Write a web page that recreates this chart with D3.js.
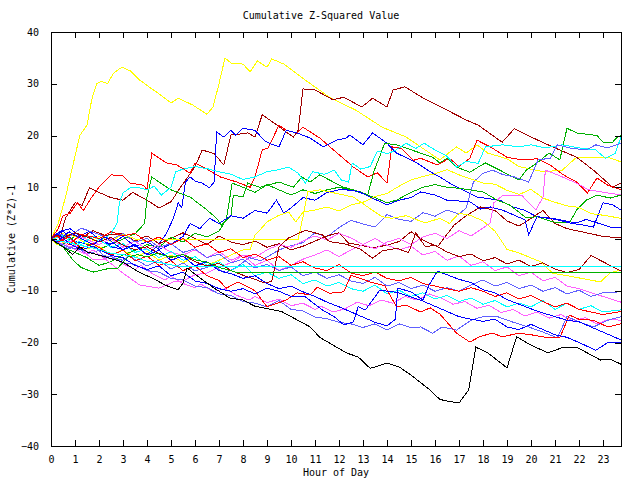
<!DOCTYPE html>
<html><head><meta charset="utf-8">
<script src="https://cdn.jsdelivr.net/npm/d3@7"></script>
<style>
body{margin:0;background:#fff}
svg{display:block}
text{font-family:"DejaVu Sans Mono",monospace;font-size:10px;fill:#000}
</style></head><body>
<svg id="c" width="640" height="480"></svg>
<script>
const titleText = "Cumulative Z-Squared Value";
const xLabel = "Hour of Day";
const yLabel = "Cumulative (Z*Z)-1";
const xTicks = d3.range(0, 24);
const yTicks = [-40, -30, -20, -10, 0, 10, 20, 30, 40];

const COL = {red:"#ff0000", dred:"#a00000", green:"#00b000", blue:"#0000ff", lblue:"#6060ff", mag:"#ff60ff", cyan:"#00ffff", yel:"#ffff00", blk:"#000000"};

const yellowTop = [[0,0],[0.3,3],[0.6,8],[1.0,16],[1.2,20],[1.5,22],[1.7,27],[1.9,30],[2.1,30.5],[2.35,30],[2.6,32],[2.95,33.2],[3.3,32.5],[3.7,30.7],[4.2,29],[4.4,28.4],[5.0,26.3],[5.3,27.2],[5.9,25.9],[6.5,24.1],[6.75,25.5],[7.0,30],[7.25,35],[7.5,34],[8.0,33.8],[8.3,32.3],[8.6,34.4],[9.0,33.2],[9.2,34.8],[9.7,33.8],[10.6,30.7],[11.6,27.4],[12.7,24.9],[13.8,21.6],[14.8,19.7],[15.4,17.8],[16.2,15.3],[16.9,17.8],[17.3,16.6],[17.75,18.2],[18.2,16.6],[19.0,15.5],[19.5,14],[20.5,13],[21.3,13.3],[21.9,15.8],[23.2,15.8],[23.75,14.9]];
const blackLow = [[0,0],[0.5,-1.5],[0.9,-3],[1.2,-1.5],[1.5,-2.5],[2.3,-3.5],[3,-4.5],[3.7,-6.5],[4.2,-7.5],[4.8,-9.0],[5.3,-9.8],[5.5,-8.5],[5.67,-5.6],[6.2,-7.5],[6.8,-9.5],[7.45,-11.4],[8.0,-11.8],[8.5,-13],[9.6,-14],[10.8,-17],[11.2,-19],[12.3,-22],[12.8,-22.8],[13.3,-25],[14.0,-24],[14.5,-24.7],[15.0,-26.3],[15.8,-29.2],[16.2,-31],[16.6,-31.4],[17.0,-31.7],[17.4,-29.2],[17.7,-20.9],[18.2,-22],[19.0,-24.9],[19.4,-18.9],[20.0,-20.5],[20.7,-22],[21.3,-21],[21.9,-20.9],[22.9,-23.4],[23.3,-23.2],[23.75,-24.2]];
const darkRedHigh = [[0,0],[0.3,-1],[0.6,4],[1.0,7],[1.3,6.5],[1.6,9.9],[2.0,9],[2.5,8],[3,7.5],[3.4,9],[4.0,7.5],[4.5,6],[5.0,7.2],[5.4,10],[5.9,13.3],[6.1,15],[6.3,17.2],[6.8,16.5],[7.2,14.3],[7.5,20.1],[7.9,20.3],[8.2,20.5],[8.5,19.7],[8.8,24],[9.3,22.4],[9.7,21],[10.1,19.7],[10.3,21],[10.5,29],[11.0,28.8],[11.75,26.9],[12.2,27.4],[12.95,25.5],[13.4,27.2],[14.0,25.5],[14.25,28.8],[14.75,29.4],[15.45,27.4],[16.5,24.9],[17.3,23],[17.8,22],[18.8,18.7],[19.3,21.3],[20.1,19.5],[20.9,17.8],[21.9,15.8],[22.6,13.3],[23.4,10],[23.75,10.8]];
const redHigh = [[0,0],[0.3,2],[0.5,4.5],[0.8,5],[1.1,7],[1.35,5.5],[1.7,8.1],[2.0,10],[2.5,12.4],[3.0,12.2],[3.3,10.8],[3.85,10.4],[4.0,9.5],[4.2,16.6],[4.8,14.7],[5.25,14.3],[5.8,12.7],[6.0,14.7],[6.35,13.9],[7.05,12],[7.75,11],[8.3,10],[8.5,12],[8.8,17.2],[9.05,17.6],[9.5,22],[9.8,21],[10.25,20.5],[10.5,21.6],[11.2,19.5],[12.6,13.9],[13.2,12],[13.6,12.8],[14.0,10.8],[14.2,17.8],[14.6,17.5],[15.1,15.2],[15.4,15.6],[16.1,14.3],[16.6,15.6],[17.0,14],[17.45,15.6],[17.75,19.1],[18.3,17.8],[19.0,15.8],[19.6,15.3],[20.25,15.5],[20.8,14.3],[21.35,12.4],[21.9,11],[22.35,8.9],[22.75,11.8],[23.2,10.4],[23.5,9.9],[23.75,9.5]];
const blueHigh = [[0,0],[0.5,1.5],[1,-0.5],[1.5,-1],[2,0.5],[2.5,-1.5],[3,-2],[3.5,-1],[4,-3],[4.4,-1.5],[4.8,1],[5.1,4],[5.3,7],[5.45,6],[5.6,11],[5.8,12],[6.0,11.2],[6.3,10.8],[6.6,9.9],[6.8,11],[6.9,20.7],[7.2,19.7],[7.5,21],[7.7,20],[8.0,21.4],[8.5,21],[8.9,19],[9.1,18.5],[9.5,17.8],[9.8,21],[10.25,20.5],[10.8,19.5],[11.35,17.8],[11.9,19.1],[12.3,19.5],[12.45,20.1],[13.0,18.2],[13.4,20.5],[14.0,18.5],[14.4,16.6],[15.25,14.7],[15.8,13],[16.2,12],[16.75,10.4],[17.75,8.1],[18.7,7.5],[19.25,6.2],[19.7,5.6],[20.25,4.3],[20.9,4],[21.2,3.7],[21.9,3.1],[22.3,3.8],[23.3,2.3],[23.75,2.3]];
const greenHigh = [[0,0],[0.5,-1],[1,0.5],[1.5,-1],[2,-2],[2.5,-1],[3,0],[3.5,1],[3.9,3],[4.0,8.1],[4.2,12],[4.5,11],[5.0,9.5],[5.8,8.1],[6.5,5.6],[6.9,4],[7.1,2.7],[7.5,4.5],[7.6,8.5],[8.0,8.1],[8.2,10.8],[8.7,10],[9.5,11],[10.1,10],[10.45,12],[10.8,11],[11.2,12.4],[11.6,11.4],[12.2,10],[12.9,9.1],[13.2,8.5],[13.45,13],[13.7,16],[13.9,18.5],[14.4,18.2],[15.4,16.6],[15.9,15.8],[16.2,14.7],[16.5,15.6],[16.9,13.9],[17.45,12.9],[17.8,13.9],[18.1,14.7],[18.7,13.3],[19.5,11.4],[19.8,13.3],[20.25,14.7],[20.75,16.6],[21.2,15.3],[21.5,21.4],[21.9,20.5],[22.75,20],[23.0,18.7],[23.4,18.7],[23.6,19.7],[23.75,20]];
const cyanHigh = [[0,0],[0.5,0.5],[1,-1],[1.5,0.5],[2,-0.5],[2.5,1],[2.75,3],[2.85,7],[3.0,8.9],[3.3,9.9],[3.6,10],[4.0,9.5],[4.3,10.2],[4.6,8.5],[5.0,10],[5.2,13],[5.5,13.5],[6.0,14],[6.5,13.6],[7.0,13],[7.5,12.5],[8.0,11.5],[8.5,12],[9.0,13],[9.4,13.3],[9.9,13.9],[10.3,12.7],[10.6,10.8],[10.9,13],[11.4,12.5],[11.8,13.3],[12.1,11.4],[12.4,11],[12.55,14.7],[12.9,13.5],[13.3,14],[13.6,17],[14.0,16.5],[14.3,17],[14.8,18.5],[15.2,17.5],[15.55,18.5],[16.0,17.2],[16.5,16],[16.9,13.9],[17.3,15],[17.8,14.6],[18.1,17.8],[18.8,18.2],[19.5,17.8],[20.0,18.2],[20.6,17.6],[21.3,18.2],[22.0,17.6],[22.7,17.2],[23.1,15.6],[23.5,16.5],[23.75,19.7]];
const lblueRise = [[0,0],[0.25,-0.8],[0.75,-1.9],[1,-1.4],[1.5,-2.9],[2,-2.2],[2.25,-3.6],[3,-4.1],[3.25,-3.3],[4,-5.2],[4.5,-4.1],[5,-5.8],[5.5,-4.6],[6,-6.2],[6.75,-5.1],[7.25,-6.6],[7.75,-5.4],[8.25,-3.6],[8.75,-4.2],[9.5,-2.1],[10,-1.3],[10.5,-0.7],[11,1.2],[11.5,0.4],[12,2.2],[12.5,3.6],[13,2.9],[13.5,2.3],[14,4.7],[14.5,3.8],[15,3.4],[15.5,5.1],[16,4.4],[16.5,5.6],[17.0,4.8],[17.3,6],[17.6,11],[18.0,12.7],[18.4,13.3],[18.8,12.5],[19.3,12],[19.9,11],[20.3,15.3],[20.8,15.6],[21.1,18.2],[21.6,17.6],[22.3,17.2],[22.7,18.2],[23.2,17.6],[23.75,18.5]];
const darkRedMid = [[0,0],[0.25,-0.7],[0.75,0.9],[1.25,0.2],[1.75,1.6],[2.25,0.7],[3,1.1],[3.5,-0.4],[4,0.6],[4.5,-0.9],[5,0.1],[5.5,1.2],[6,0.1],[6.5,-1.1],[7,0.6],[7.5,-0.6],[8,-1.1],[8.5,-0.4],[9,-1.6],[9.5,-0.9],[10,-2.1],[10.5,-1.4],[11,-0.4],[11.5,0.6],[12.0,1.2],[12.4,-0.8],[12.9,-1.2],[13.4,-1.7],[14.0,-1.2],[14.5,-0.5],[15.0,1.4],[15.5,-0.2],[16.1,-1.5],[16.8,2.7],[17.3,4.5],[17.9,6.2],[18.5,5.5],[19.0,3.5],[19.5,2.5],[20.0,4],[20.5,5.5],[21.0,3],[21.5,2],[22.0,1.5],[22.5,1],[23.0,0.5],[23.75,0.2]];
const redLow = [[0,0],[0.25,-0.6],[0.75,0.4],[1.25,-1.8],[1.75,-0.9],[2.5,-3.1],[3,-2.2],[3.5,-4.2],[4,-3.3],[4.5,-5.1],[5,-4.2],[5.5,-6.1],[6,-5.2],[6.5,-7.1],[7,-8],[7.3,-9.5],[7.8,-8.3],[8.5,-10],[9.0,-13.1],[9.8,-11.8],[10.25,-10.4],[10.8,-10.8],[11.1,-9.3],[11.6,-10.5],[12.2,-10.2],[12.5,-7],[13.3,-8.3],[13.9,-9],[14.4,-13.1],[14.8,-12.8],[15.4,-14.1],[15.8,-13.3],[16.2,-14.5],[16.9,-18.2],[17.45,-19.9],[17.9,-18.8],[18.4,-18.2],[18.8,-18.9],[19.5,-18.2],[20.0,-18.5],[20.6,-19],[21.2,-19.1],[21.6,-14.7],[22.0,-15.5],[22.6,-15.7],[23.2,-17],[23.75,-16.4]];
const blueLow = [[0,0],[0.25,1.1],[0.75,-0.8],[1.25,-2.1],[1.75,-1.4],[2.5,-3.2],[3,-3.6],[3.5,-5.1],[4,-5.9],[4.5,-5.2],[5,-7.1],[5.5,-6.4],[6,-8.1],[6.5,-8.6],[7,-9.6],[7.5,-10.1],[8,-9.6],[8.5,-10.6],[9,-9.5],[9.5,-10.1],[10,-11.1],[10.6,-11.2],[11.3,-13.7],[11.8,-15],[12.2,-16.6],[12.6,-16],[12.8,-13.1],[13.1,-13.7],[13.7,-9.9],[14.4,-10.3],[15.4,-11.8],[16.0,-13],[16.5,-14],[17.0,-15],[17.5,-15.5],[18.0,-15.9],[18.5,-15.5],[19.0,-17],[19.5,-17.5],[20,-16.5],[20.5,-17.5],[21,-18.5],[21.5,-19],[22,-20],[22.7,-21.5],[23.2,-20],[23.75,-20.1]];
const blueJump = [[0,0],[0.25,-0.6],[0.75,1.4],[1.25,0.1],[1.75,-1.1],[2.25,0.4],[3,-2.1],[3.5,-1.2],[4,-3.1],[4.5,-2.2],[5,-4.1],[5.5,-3.3],[6,-5.2],[6.5,-4.4],[7,-6.1],[7.5,-6.7],[8,-7.6],[8.5,-7.1],[9,-8.6],[9.5,-9.6],[10,-9.1],[10.5,-10.2],[11,-11.1],[11.5,-12.2],[12,-13.1],[12.5,-14.1],[13,-15.1],[13.5,-16.1],[14.0,-16.8],[14.35,-15.5],[14.45,-9.5],[15,-10.2],[15.5,-11.8],[15.75,-8.9],[16.1,-6.2],[16.5,-6.9],[17,-7.8],[17.5,-8.4],[18,-9.8],[18.5,-10.4],[19,-11.7],[19.5,-12.6],[20,-13.5],[20.5,-14.3],[21,-15],[21.5,-15.7],[22,-16],[22.5,-17],[23,-18],[23.5,-19],[23.75,-19.5]];
const greenMid = [[0,0],[0.25,-0.9],[0.75,-2.1],[1.5,-3.6],[2,-5.1],[2.5,-4.4],[3,-3.1],[3.5,-2.2],[4,-1.1],[4.5,-1.6],[5,0.4],[5.5,-0.6],[6,1.1],[6.5,0.4],[7.0,1.5],[7.3,3.7],[7.55,10.8],[8.0,10],[8.5,9],[9.0,10.5],[9.5,9.5],[10,8.5],[10.5,9.5],[11,8.8],[11.5,9.5],[12,10],[12.5,9.5],[13,8.8],[13.5,8],[14,7],[14.4,7.5],[15,9],[15.5,10],[16,10.5],[16.5,10],[17.0,9.8],[17.45,9.5],[18.0,9.1],[18.6,7.5],[19.1,6.6],[19.8,4.1],[20.25,4.3],[20.9,3.3],[21.6,3.1],[21.9,5.6],[22.3,7.5],[22.75,8.5],[23.3,7.9],[23.75,8.5]];
const blueMid = [[0,0],[0.4,1.5],[0.8,2],[1.2,0.5],[1.6,1.5],[2,0],[2.5,-1],[3,0.5],[3.5,-1.5],[4,-0.5],[4.5,-2],[5,-1],[5.5,0.5],[5.8,3],[6.2,2],[6.6,4],[7,3],[7.5,4.5],[8,4],[8.5,5.5],[9,5],[9.4,7.5],[9.7,5],[10,6],[10.5,8],[11,7.5],[11.5,9],[12,9.5],[12.3,9.5],[12.8,9.2],[13.3,8.1],[14.0,6.6],[14.5,7.5],[15.0,8],[15.4,9.1],[16,8.5],[16.5,7.5],[17.45,7.2],[17.9,5.8],[18.3,6.2],[18.8,5.6],[19.75,3.7],[19.9,0.8],[20.25,4.3],[21.0,3.8],[21.6,3.1],[22.3,2.6],[22.6,2.3],[23.0,7],[23.4,6.6],[23.75,5.6]];
const yellowFlat = [[0,0],[0.5,1],[1,0.5],[1.5,-1],[2,0.5],[2.5,-0.5],[3,1],[3.5,0],[4,-0.5],[4.5,0],[10.3,0],[10.5,4.3],[10.7,9.1],[11.2,9.5],[11.8,8.9],[12.6,8.1],[13.5,5.2],[13.8,4.3],[14.2,4],[14.8,4.5],[15.6,3.1],[16.2,4],[16.6,3],[17.0,5],[17.5,4.5],[18.0,3.5],[18.5,1.5],[19,-2],[19.5,-2.7],[20.4,-4.4],[20.9,-6.6],[21.75,-7.3],[22.9,-8.3],[23.3,-6.5],[23.75,-6]];
const yellowMid = [[0,0],[0.25,-1.1],[0.75,-0.4],[1.25,-2.1],[2,-1.4],[2.5,-3.1],[3,-2.1],[3.5,-3.6],[4,-2.4],[4.5,-4.1],[5,-3.1],[5.5,-4.6],[6,-3.4],[6.5,-5.1],[7,-4.1],[7.5,-3.1],[8,-2.1],[8.3,-2.1],[8.5,0.8],[8.7,1.7],[9.0,3.3],[9.5,4.6],[9.9,5.2],[10.2,3.3],[10.5,5.2],[11.0,5.6],[11.5,6.2],[12,5.4],[12.5,6.6],[13,7.1],[13.5,8.2],[14,8.8],[14.5,10.2],[15,11.4],[15.5,12.1],[16,12.6],[16.5,13.4],[17,12.4],[17.5,11.6],[18,10.8],[18.5,10.6],[19,9.4],[19.5,8.6],[20,9.6],[20.5,7.9],[21,7.1],[21.5,6.4],[22,6.1],[22.5,4.9],[23,4.6],[23.75,4]];
const magLow = [[0,0],[0.25,-0.8],[0.5,-0.3],[0.75,-1.6],[1,-1.2],[1.5,-2.8],[1.75,-2.1],[2.25,-3.9],[2.5,-3.2],[3,-4.8],[3.5,-5.9],[3.75,-5.1],[4.25,-6.8],[4.75,-7.9],[5,-7.2],[5.5,-8.6],[6,-9.4],[6.25,-8.7],[6.75,-10.2],[7.25,-9.6],[7.75,-10.9],[8.25,-11.8],[8.5,-11.1],[9,-12.3],[9.5,-11.6],[10,-12.9],[10.5,-12.4],[11,-13.6],[11.25,-13],[11.75,-14.1],[12.25,-13.5],[12.75,-12.2],[13.25,-12.9],[13.75,-11.8],[14.25,-12.4],[14.75,-11.1],[15.25,-11.8],[15.75,-10.6],[16.25,-11.4],[16.75,-12.6],[17.25,-12.1],[17.75,-13.4],[18.25,-12.8],[18.75,-14.2],[19.25,-13.6],[19.75,-14.9],[20.25,-14.1],[20.75,-15.3],[21.25,-14.6],[21.75,-15.9],[22.25,-15.2],[22.75,-16.4],[23.25,-15.5],[23.75,-15.7]];
const magDip = [[0,0],[0.5,-1],[1,-2],[1.5,-3],[1.75,-4],[2.3,-4],[3.0,-6.6],[3.7,-8.9],[4.5,-9.5],[5.1,-8.3],[5.5,-8.1],[6,-6.9],[6.5,-6.6],[7,-5.4],[7.5,-4.6],[8,-3.1],[8.5,-3.6],[9,-2.1],[9.5,-1.1],[10,-1.6],[10.5,-0.4],[11,0.6],[11.5,-0.2],[12,1.1],[12.5,0.2],[13,-1.1],[13.5,0.1],[14,-1.2],[14.5,-2.1],[15,-1.4],[15.5,-3.1],[16,-2.4],[16.5,-4.1],[17,-3.3],[17.5,-5.1],[18,-4.4],[18.5,-6.1],[19,-5.4],[19.5,-7.1],[20,-6.4],[20.5,-8.1],[21,-7.4],[21.5,-9.1],[22,-9.6],[22.5,-10.4],[23,-11.1],[23.75,-12.2]];
const magRise = [[0,0],[0.25,0.6],[0.75,-0.6],[1.25,0.4],[2,-1.1],[2.5,0.1],[3,-1.6],[3.5,-0.4],[4,-2.1],[4.5,-1.1],[5,-2.6],[5.5,-3.1],[6,-2.1],[6.5,-3.6],[7,-2.4],[7.5,-4.1],[8,-3.1],[8.5,-5.1],[9,-4.1],[9.5,-6.1],[10,-5.1],[10.5,-3.9],[11,-3.1],[11.5,-2.1],[12,-3.4],[12.5,-2.1],[13,-1.1],[13.5,-1.9],[14,-0.6],[14.5,0.1],[15,-1.1],[15.5,0.4],[16,1.1],[16.5,0.1],[17,1.6],[17.5,0.6],[18,2.1],[18.3,3.1],[18.45,7],[18.85,8.5],[19.6,8.5],[20.2,5.6],[20.5,8.1],[20.6,13.3],[21.1,12.4],[21.9,10.8],[22.4,9.5],[23.75,8.5]];
const cyanFlat = [[0,0],[0.5,-0.5],[1,-1],[1.5,-1.5],[2,-2],[2.5,-2.8],[3,-3],[3.5,-3.5],[4,-4.3],[4.5,-4.5],[5,-5],[5.4,-5.3],[23.75,-5.3]];
const greenFlat = [[0,0],[0.5,-1.5],[0.9,-4],[1.25,-5.5],[1.75,-6.4],[2.5,-5.6],[2.75,-5.8],[3.2,-3.5],[3.6,-3],[4.0,-3.5],[4.4,-2.8],[5,-3.5],[5.5,-3],[6,-4],[6.5,-4.5],[7,-5.5],[7.7,-6.4],[23.75,-6.4]];
const cyanLow = [[0,0],[0.25,1.1],[0.75,0.1],[1.25,-1.1],[1.75,0.6],[2.5,-1.6],[3,-0.9],[3.5,-2.6],[4,-1.9],[4.5,-3.6],[5,-2.4],[5.5,-4.1],[6,-3.4],[6.5,-5.1],[7,-4.4],[7.5,-6.1],[8,-4.9],[8.5,-7.1],[9,-6.4],[9.5,-7.6],[10,-6.9],[10.5,-8.6],[11,-7.9],[11.5,-9.1],[12,-8.4],[12.5,-9.6],[13,-10.1],[13.5,-8.9],[14,-10.6],[14.5,-9.9],[15,-11.1],[15.5,-10.4],[16,-11.6],[16.5,-10.9],[17,-12.1],[17.5,-11.4],[18,-12.6],[18.5,-11.9],[19,-13.1],[19.5,-12.4],[20,-13.1],[20.5,-11.9],[21,-13.6],[21.5,-12.4],[22,-13.6],[22.5,-12.9],[23,-14.1],[23.75,-13.7]];
const lblueLow = [[0,0],[0.25,-0.6],[0.75,-1.6],[1.25,-2.1],[2,-3.1],[2.5,-3.4],[3,-4.6],[3.5,-4.9],[4,-6.1],[4.5,-6.4],[5,-7.6],[5.5,-7.9],[6,-9.1],[6.5,-9.4],[7,-10.6],[7.5,-10.9],[8,-12.1],[8.5,-12.4],[9,-13.1],[9.5,-11.9],[10,-13.6],[10.5,-13.9],[11,-15.1],[11.5,-15.4],[12,-16.1],[12.5,-16.4],[13,-17.1],[13.5,-16.4],[14,-17.6],[14.5,-16.4],[15,-17.1],[15.4,-17],[15.9,-18.2],[16.3,-17],[16.9,-17.6],[17.5,-15.7],[18.0,-15],[18.6,-15],[19.2,-16],[19.9,-17],[20.5,-18],[21.1,-19.1],[21.5,-15],[22,-16],[22.6,-17],[23.2,-15.7],[23.75,-15]];
const redMid = [[0,0],[0.25,0.6],[0.75,-1.1],[1.25,0.9],[2,0.1],[2.5,1.4],[3,0.6],[3.5,1.1],[4,-0.6],[4.5,0.4],[5,-1.1],[5.5,0.1],[6,-1.6],[6.5,-0.9],[7,-2.6],[7.5,-1.9],[8,-3.6],[8.5,-2.9],[9,-4.1],[9.5,-3.4],[10,-5.1],[10.5,-4.4],[11,-5.6],[11.5,-6.1],[12,-4.9],[12.5,-6.6],[13,-7.1],[13.5,-6.4],[14,-7.6],[14.5,-8.1],[15,-7.4],[15.5,-8.6],[16,-9.1],[16.5,-9.6],[17,-10.1],[17.5,-9.4],[18,-10.1],[18.5,-11.1],[19,-10.4],[19.5,-11.6],[20,-10.9],[20.5,-12.1],[21,-13.1],[21.5,-12.4],[22,-13.6],[22.5,-14.1],[23,-14.6],[23.75,-14]];
const lblueMid = [[0,0],[0.25,1.1],[0.75,0.4],[1.25,2.1],[2,0.9],[2.5,-0.1],[3,1.1],[3.5,-0.6],[4,0.1],[4.5,-1.6],[5,-0.9],[5.5,-2.6],[6,-1.9],[6.5,-3.6],[7,-2.9],[7.5,-4.6],[8,-3.9],[8.5,-5.6],[9,-4.9],[9.5,-6.1],[10,-5.4],[10.5,-7.1],[11,-6.4],[11.5,-7.6],[12,-6.9],[12.5,-8.1],[13,-8.6],[13.5,-7.4],[14,-9.1],[14.5,-8.4],[15,-9.6],[15.5,-8.9],[16,-10.1],[16.5,-9.4],[17,-10.1],[17.5,-8.9],[18,-7.9],[18.5,-9.1],[19,-8.4],[19.5,-9.6],[20,-8.9],[20.5,-10.1],[21,-9.4],[21.5,-10.6],[22,-9.9],[22.5,-11.1],[23,-10.4],[23.75,-10.2]];
const darkRedLow = [[0,0],[0.25,0.8],[0.5,0.2],[1,1.2],[1.5,0.4],[2,-0.6],[2.5,0.3],[3,-1.2],[3.5,-2.1],[4,-1.5],[4.5,-2.8],[5,-3.6],[5.5,-3],[6,-4.4],[6.5,-5.2],[7,-4.7],[7.5,-6.1],[8,-7],[8.5,-7.8],[8.9,-8.5],[9.2,-8.2],[9.5,-1.5],[9.9,0.2],[10.6,1.7],[11.3,0.8],[11.6,-0.5],[12.3,-1],[12.9,-2],[13.4,-3.7],[13.8,-2.3],[14.4,-1.8],[14.9,-2.6],[15.2,1.2],[15.6,-1.5],[16.0,-1.2],[16.5,-2.5],[17,-3.4],[17.5,-2.9],[18,-4.2],[18.5,-3.6],[19,-4.8],[19.5,-4.1],[20,-5.3],[20.5,-4.6],[21,-5.8],[21.5,-6.5],[22,-5.9],[22.5,-3.2],[23,-4.4],[23.75,-6.2]];

const seriesData = [yellowTop, darkRedHigh, redHigh, blueHigh, greenHigh, cyanHigh, lblueRise, darkRedMid, greenMid, blueMid, yellowFlat, yellowMid, magRise, magDip, magLow, cyanLow, lblueLow, lblueMid, darkRedLow, redMid, redLow, blueLow, blueJump, cyanFlat, greenFlat, blackLow];
const seriesColors = [COL.yel, COL.dred, COL.red, COL.blue, COL.green, COL.cyan, COL.lblue, COL.dred, COL.green, COL.blue, COL.yel, COL.yel, COL.mag, COL.mag, COL.mag, COL.cyan, COL.lblue, COL.lblue, COL.dred, COL.red, COL.red, COL.blue, COL.blue, COL.cyan, COL.green, COL.blk];

const svg = d3.select("#c");
const L = 51, R = 621, T = 32, B = 446;
const x = d3.scaleLinear().domain([0, 23.75]).range([L, R]);
const y = d3.scaleLinear().domain([-40, 40]).range([B, T]);

const line = d3.line().x(d => x(d[0])).y(d => y(d[1]));
const g = svg.append("g");
seriesData.forEach((s, i) => {
  g.append("path").attr("d", line(s)).attr("fill", "none")
   .attr("stroke", seriesColors[i]).attr("stroke-width", 1)
   .attr("shape-rendering", "crispEdges");
});

function styleAxis(sel, hideLabels) {
  sel.select(".domain").remove();
  sel.selectAll("line").attr("stroke", "#000").attr("shape-rendering", "crispEdges");
  sel.selectAll("text").style("font-family", "DejaVu Sans Mono, monospace").style("font-size", "10px");
  if (hideLabels) sel.selectAll("text").remove();
}
const ax = svg.append("g");
ax.append("g").attr("transform", `translate(0,${B})`).call(d3.axisBottom(x).tickValues(xTicks).tickSize(-6).tickPadding(10).tickFormat(d3.format("d"))).call(s => styleAxis(s, false));
ax.append("g").attr("transform", `translate(0,${T})`).call(d3.axisTop(x).tickValues(xTicks).tickSize(-6)).call(s => styleAxis(s, true));
ax.append("g").attr("transform", `translate(${L},0)`).call(d3.axisLeft(y).tickValues(yTicks).tickSize(-6).tickPadding(12)).call(s => styleAxis(s, false));
ax.append("g").attr("transform", `translate(${R},0)`).call(d3.axisRight(y).tickValues(yTicks).tickSize(-6)).call(s => styleAxis(s, true));
ax.append("rect").attr("x", L + 0.5).attr("y", T + 0.5).attr("width", R - L).attr("height", B - T)
  .attr("fill", "none").attr("stroke", "#000").attr("shape-rendering", "crispEdges");

svg.append("text").attr("x", 321).attr("y", 19).attr("text-anchor", "middle").text(titleText);
svg.append("text").attr("x", 336).attr("y", 476).attr("text-anchor", "middle").text(xLabel);
svg.append("text").attr("transform", "translate(15,239) rotate(-90)").attr("text-anchor", "middle").text(yLabel);
</script></body></html>
